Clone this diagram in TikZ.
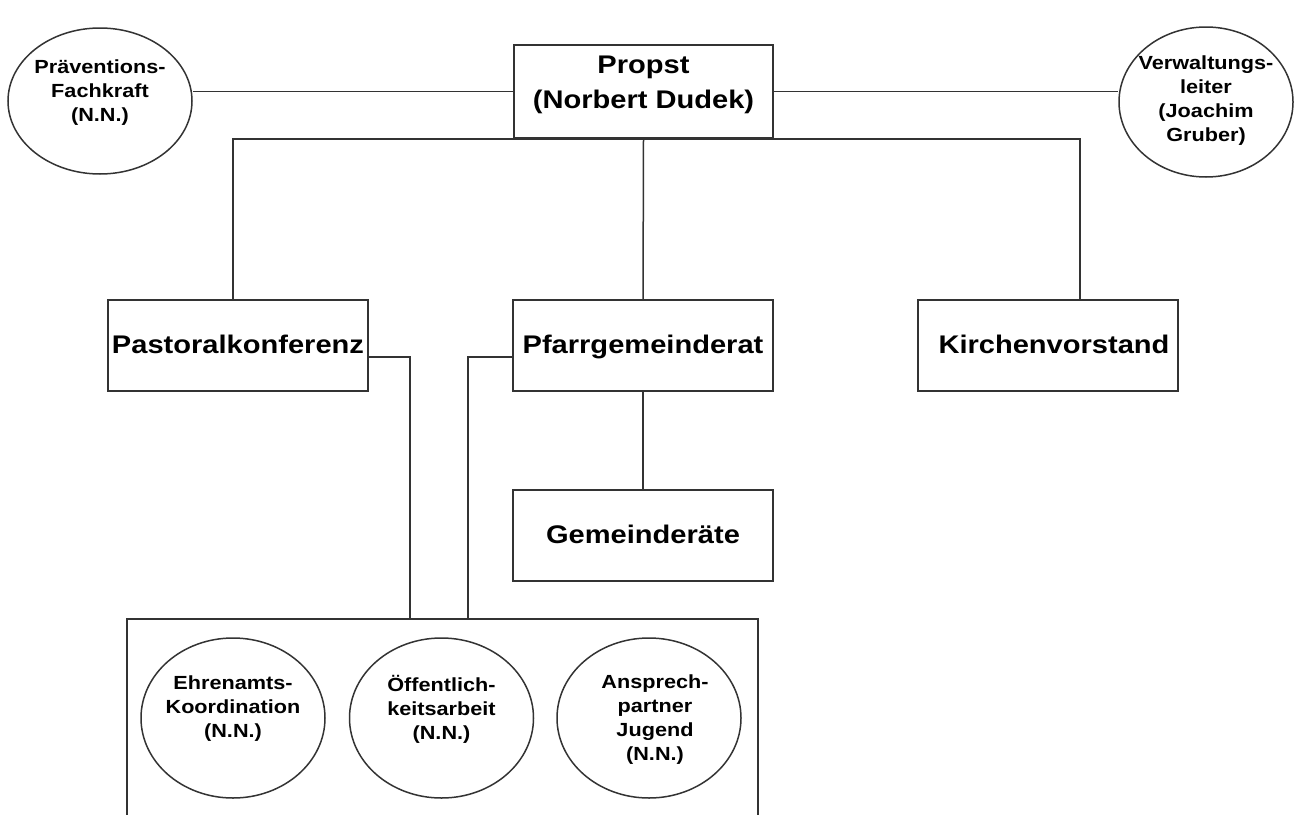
\documentclass[tikz,border=0pt]{standalone}
\usepackage{fontspec}
\usetikzlibrary{shapes.geometric}
\newfontfamily\lab[FakeStretch=1.14]{Liberation Sans}
\tikzset{
  ln/.style={line width=1.5pt, draw=black!80},
  boxn/.style={ln, rectangle, inner sep=0pt, minimum width=260pt, minimum height=91pt,
     font=\lab\bfseries\fontsize{25.5}{35}\selectfont, align=center, text height=20pt, text depth=5pt},
  circn/.style={ln, ellipse, inner sep=0pt, minimum width=184pt, minimum height=160pt},
  ctext/.style={font=\lab\bfseries\fontsize{19}{24}\selectfont, align=center, inner sep=0pt},
  btext/.style={font=\lab\bfseries\fontsize{25.5}{35}\selectfont, align=center, inner sep=0pt}
}
\begin{document}
\begin{tikzpicture}[x=1pt,y=-1pt]
\useasboundingbox[fill=white] (0,0) rectangle (1301,814);
% top level
\node[boxn, minimum width=259pt, minimum height=93pt, text height=, text depth=] (propst) at (643.5,91.5) {};
\node[btext] (propsttxt) at ([yshift=7pt]propst.center) {Propst\\(Norbert Dudek)};
\node[circn, minimum width=184pt, minimum height=146pt] (pf) at (100,101) {};
\node[ctext] (pftxt) at ([yshift=8pt]pf.center) {Präventions-\\Fachkraft\\(N.N.)};
\node[circn, minimum width=174pt, minimum height=150pt] (vw) at (1206,102) {};
\node[ctext] (vwtxt) at ([yshift=1pt]vw.center) {Verwaltungs-\\leiter\\(Joachim\\Gruber)};
% second row
\node[boxn] (pk) at (238,345.5) {Pastoralkonferenz};
\node[boxn] (pg) at (643,345.5) {Pfarrgemeinderat};
\node[boxn] (kv) at (1048,345.5) {\hspace*{12pt}Kirchenvorstand};
\node[boxn] (gr) at (643,535.5) {Gemeinderäte};
% group box (open at the bottom edge of the picture)
\node[ln, rectangle, minimum width=631pt, minimum height=260pt, anchor=north] (grp) at (442.5,618) {};
\node[circn] (eh) at (233,718) {};
\node[ctext] (ehtxt) at ([yshift=9pt]eh.center) {Ehrenamts-\\Koordination\\(N.N.)};
\node[circn] (oe) at (441.5,718) {};
\node[ctext] (oetxt) at ([yshift=9pt]oe.center) {Öffentlich-\\keitsarbeit\\(N.N.)};
\node[circn] (an) at (649,718) {};
\node[ctext] (antxt) at ([xshift=6pt,yshift=-2pt]an.center) {Ansprech-\\partner\\Jugend\\(N.N.)};
% connectors
\draw[ln] (propst.west) -- (pf.east |- propst.west);
\draw[ln] (propst.east) -- (vw.west |- propst.east);
\draw[ln] ([xshift=-5pt]pk.north) |- (propst.south) -| ([xshift=32pt]kv.north);
\draw[ln] (propst.south) -- (pg.north);
\draw[ln] (pg.south) -- (gr.north);
\draw[ln] ([yshift=-11.5pt]pk.east) -| ([xshift=-32.5pt]grp.north);
\draw[ln] ([yshift=-11.5pt]pg.west) -| ([xshift=25.5pt]grp.north);
\end{tikzpicture}
\end{document}
